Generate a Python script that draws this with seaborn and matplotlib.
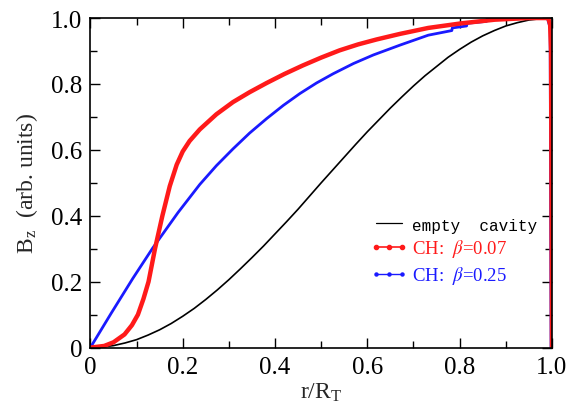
import numpy as np
import pandas as pd
import matplotlib
matplotlib.use("Agg")
import matplotlib.pyplot as plt
from matplotlib.lines import Line2D
from matplotlib.ticker import MultipleLocator, FixedFormatter, FixedLocator
import seaborn as sns

# ---- data ----
r_empty = [0.0, 0.025, 0.05, 0.075, 0.10, 0.125, 0.15, 0.175, 0.20, 0.225, 0.25,
           0.275, 0.30, 0.325, 0.35, 0.375, 0.40, 0.425, 0.45, 0.475, 0.50,
           0.525, 0.55, 0.575, 0.60, 0.625, 0.65, 0.675, 0.70, 0.725, 0.75,
           0.775, 0.80, 0.825, 0.85, 0.875, 0.90, 0.925, 0.95, 0.975, 1.0]
b_empty = [0.0, 0.002, 0.006, 0.014, 0.024, 0.038, 0.054, 0.073, 0.095, 0.119, 0.146,
           0.175, 0.206, 0.239, 0.273, 0.308, 0.345, 0.382, 0.42, 0.46, 0.50,
           0.539, 0.578, 0.617, 0.655, 0.691, 0.727, 0.761, 0.794, 0.825, 0.853,
           0.881, 0.905, 0.927, 0.946, 0.962, 0.976, 0.986, 0.994, 0.998, 1.0]

r_b007 = [0.0, 0.03, 0.05, 0.074, 0.09, 0.103, 0.115, 0.126, 0.14, 0.156, 0.172,
          0.187, 0.20, 0.215, 0.237, 0.273, 0.309, 0.345, 0.382, 0.42, 0.46,
          0.50, 0.54, 0.58, 0.62, 0.671, 0.732, 0.804, 0.876, 0.949, 0.992,
          0.996, 0.998, 1.0]
b_b007 = [0.0, 0.005, 0.016, 0.04, 0.068, 0.10, 0.148, 0.20, 0.30, 0.40, 0.49,
          0.555, 0.595, 0.627, 0.662, 0.708, 0.745, 0.775, 0.803, 0.830, 0.856,
          0.880, 0.902, 0.920, 0.935, 0.952, 0.970, 0.984, 0.995, 1.0, 1.0,
          0.98, 0.90, 0.0]

r_b025 = [0.0, 0.045, 0.092, 0.135, 0.19, 0.237, 0.273, 0.309, 0.345, 0.382, 0.418,
          0.454, 0.49, 0.526, 0.57, 0.613, 0.671, 0.732, 0.783, 0.784, 0.815,
          0.816, 0.858, 0.859, 0.913, 0.99, 0.996, 0.998]
b_b025 = [0.0, 0.104, 0.21, 0.302, 0.41, 0.495, 0.552, 0.603, 0.651, 0.695, 0.735,
          0.771, 0.803, 0.831, 0.862, 0.888, 0.918, 0.948, 0.962, 0.970, 0.976,
          0.984, 0.990, 0.996, 1.0, 1.0, 0.97, 0.0]

x_ticks = [0.0, 0.2, 0.4, 0.6, 0.8, 1.0]
x_tick_labels = ["0", "0.2", "0.4", "0.6", "0.8", "1.0"]
y_ticks = [0.0, 0.2, 0.4, 0.6, 0.8, 1.0]
y_tick_labels = ["0", "0.2", "0.4", "0.6", "0.8", "1.0"]

labels = ["empty  cavity", r"CH:  $\beta$=0.07", r"CH:  $\beta$=0.25"]
colors = ["black", "#ff1a1a", "#1a1aff"]

# ---- build frames ----
df_e = pd.DataFrame({"r": r_empty, "B": b_empty})
df_r = pd.DataFrame({"r": r_b007, "B": b_b007})
df_b = pd.DataFrame({"r": r_b025, "B": b_b025})

sns.set_theme(style="ticks")
plt.rcParams["font.family"] = ["Liberation Serif", "DejaVu Serif"]
plt.rcParams["mathtext.fontset"] = "stix"

fig = plt.figure(figsize=(5.72, 4.14), dpi=100)
ax = fig.add_axes([0.158, 0.158, 0.807, 0.796])

sns.lineplot(data=df_e, x="r", y="B", ax=ax, color=colors[0], lw=1.2,
             sort=False, estimator=None)
sns.lineplot(data=df_b, x="r", y="B", ax=ax, color=colors[2], lw=2.0,
             sort=False, estimator=None)
sns.lineplot(data=df_r, x="r", y="B", ax=ax, color=colors[1], lw=3.2,
             sort=False, estimator=None)

ax.set_xlim(0, 1.0)
ax.set_ylim(0, 1.0)
ax.xaxis.set_major_locator(FixedLocator(x_ticks))
ax.xaxis.set_major_formatter(FixedFormatter(x_tick_labels))
ax.yaxis.set_major_locator(FixedLocator(y_ticks))
ax.yaxis.set_major_formatter(FixedFormatter(y_tick_labels))
ax.xaxis.set_minor_locator(MultipleLocator(0.1))
ax.yaxis.set_minor_locator(MultipleLocator(0.1))
ax.tick_params(which="both", direction="in", top=True, right=True,
               labelsize=18, width=1.0, colors="black")
ax.tick_params(which="major", length=7, pad=6)
ax.tick_params(which="minor", length=5)
for s in ax.spines.values():
    s.set_linewidth(1.2)
    s.set_color("black")

ax.set_xlabel(r"r/R$_{\mathregular{T}}$", fontsize=17, labelpad=2)
ax.set_ylabel(r"B$_{\mathregular{z}}$  (arb. units)", fontsize=17, labelpad=8)

handles = [
    Line2D([], [], color=colors[0], lw=0.9),
    Line2D([], [], color=colors[1], lw=1.2, marker="o", markersize=3),
    Line2D([], [], color=colors[2], lw=1.0, marker="o", markersize=2.2),
]
leg = ax.legend(handles, labels, loc="upper left", bbox_to_anchor=(0.59, 0.42),
                frameon=False, fontsize=13.5, handlelength=2.0, handletextpad=0.25,
                labelspacing=0.25, numpoints=3, borderaxespad=0)
for t, c in zip(leg.get_texts(), colors):
    t.set_color(c)
leg.get_texts()[0].set_family(["Liberation Mono", "DejaVu Sans Mono"])
leg.get_texts()[0].set_size(11.5)

fig.savefig("out.png", dpi=100)
